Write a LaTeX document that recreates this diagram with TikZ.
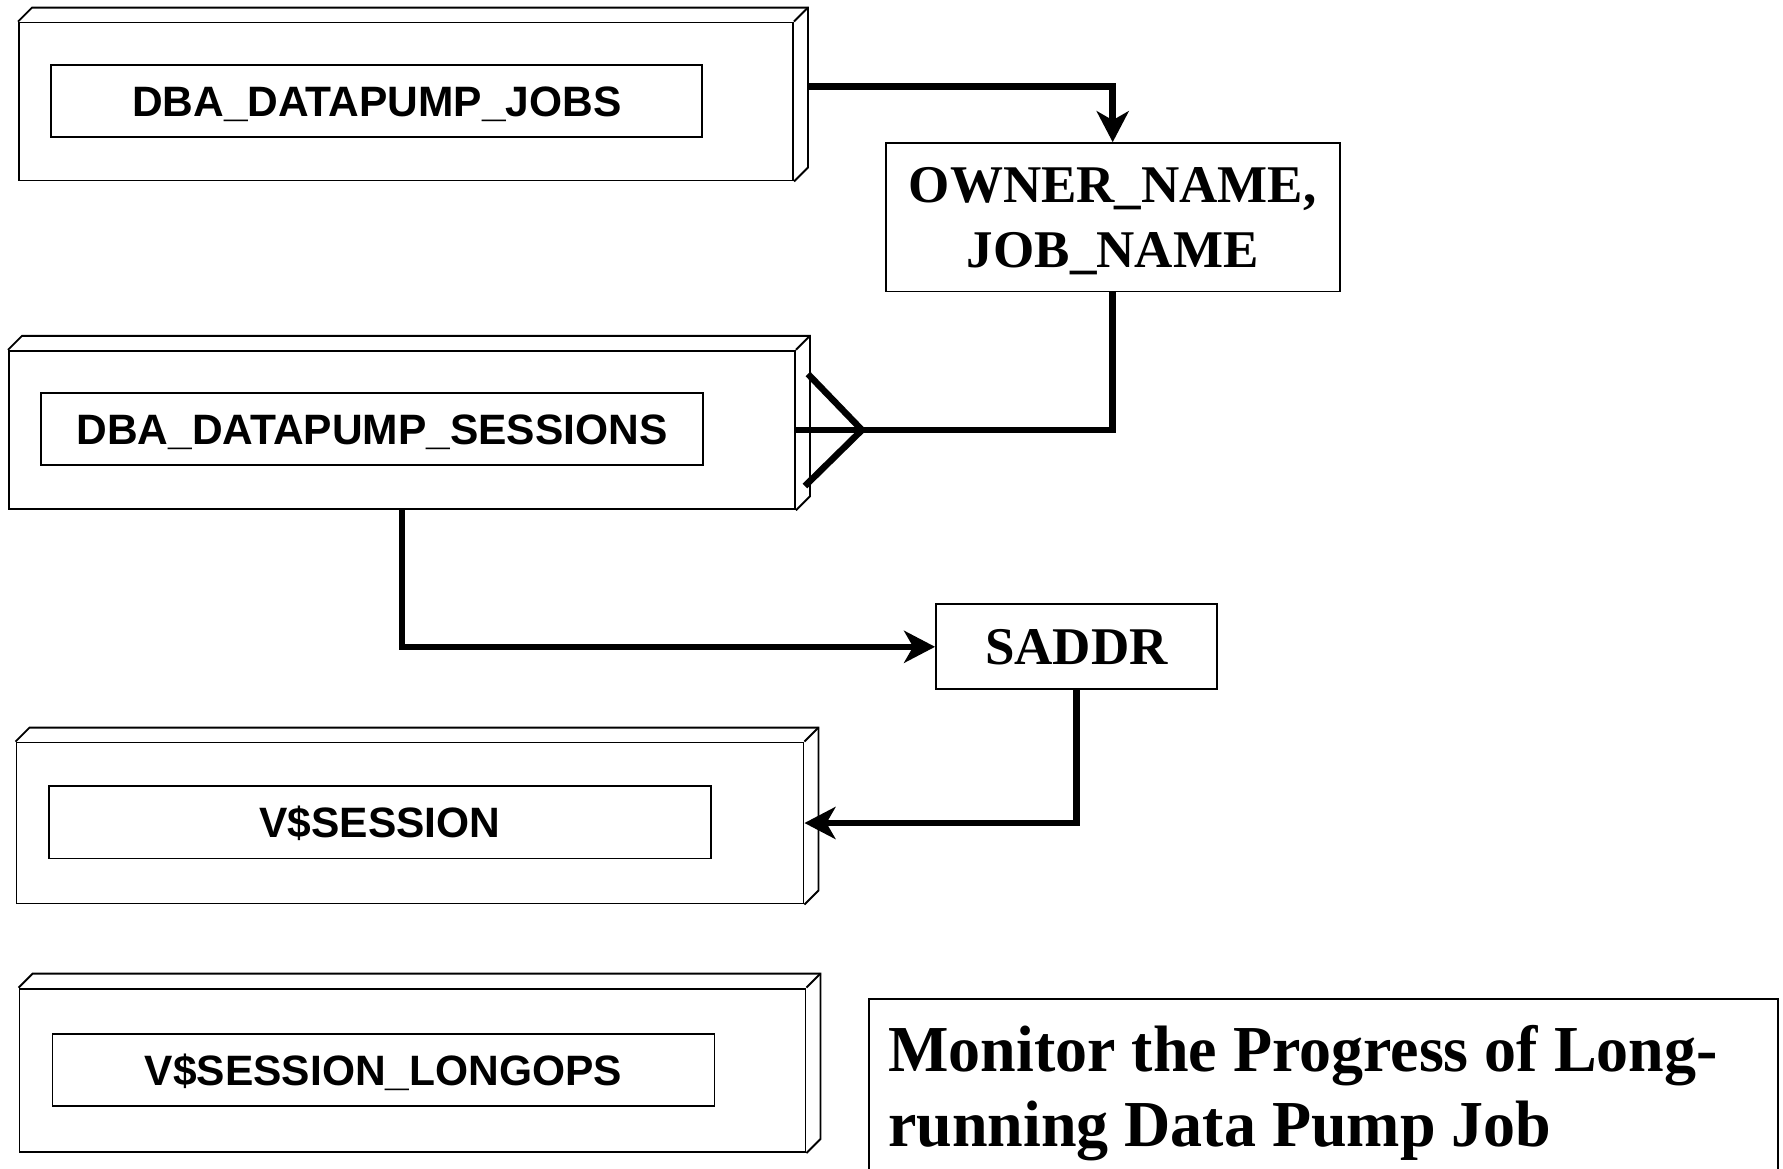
\documentclass[tikz,border=0pt]{standalone}
\usepackage{fontspec}
\setmainfont{Liberation Serif}
\newfontfamily\labelsans{Liberation Sans}
\usetikzlibrary{arrows.meta}

\tikzset{
  front/.style={draw, line width=1.9pt, rectangle, inner sep=0pt},
  tablebox/.style={draw, line width=1.9pt, rectangle, inner sep=0pt,
    text height=31pt, text depth=0pt,
    font=\labelsans\bfseries\fontsize{42.5}{50}\selectfont},
  keybox/.style={draw, line width=1.9pt, rectangle, inner sep=0pt, align=center,
    font=\bfseries\fontsize{53}{65}\selectfont},
  conn/.style={line width=6.5pt},
  arr/.style={conn, -{Stealth[length=31pt, width=32pt, inset=9pt]}},
  titletext/.style={anchor=base west, inner sep=0pt,
    font=\bfseries\fontsize{64}{74}\selectfont},
}

% draws the top and right faces of a block from its front rectangle node
\newcommand\blockdepth[1]{%
  \draw[line width=1.9pt, line join=miter]
    (#1.north west) -- ++(14,-14) -- ([shift={(14,-14)}]#1.north east)
    -- ([shift={(14,-14)}]#1.south east) -- (#1.south east);
  \draw[line width=1.9pt] (#1.north east) -- ++(14,-14);
}

\begin{document}
\begin{tikzpicture}[x=1pt, y=-1pt]
\useasboundingbox (0,0) rectangle (1783,1168);

% table blocks
\node[front, minimum width=774pt, minimum height=158pt] (b1) at (406,101.5) {};
\blockdepth{b1}
\node[tablebox, minimum width=651pt, minimum height=72pt] (l1) at (376.8,100.8) {DBA\_DATAPUMP\_JOBS};

\node[front, minimum width=786pt, minimum height=158.5pt] (b2) at (402,430) {};
\blockdepth{b2}
\node[tablebox, minimum width=662pt, minimum height=72pt] (l2) at (372,429.2) {DBA\_DATAPUMP\_SESSIONS};

\node[front, minimum width=787pt, minimum height=161pt] (b3) at (410,823) {};
\blockdepth{b3}
\node[tablebox, minimum width=662pt, minimum height=72.5pt] (l3) at (380,822.2) {V\$SESSION};

\node[front, minimum width=786pt, minimum height=163.5pt] (b4) at (412.5,1070.3) {};
\blockdepth{b4}
\node[tablebox, minimum width=662pt, minimum height=72pt] (l4) at (383.5,1069.8) {V\$SESSION\_LONGOPS};

% join columns
\node[keybox, text depth=0pt, minimum width=453.7pt, minimum height=148.3pt] (own) at (1112.7,217.3)
  {OWNER\_NAME,\\JOB\_NAME};
\node[keybox, minimum width=280.7pt, minimum height=85pt] (sad) at (1076.4,646.8) {SADDR};

% title panel
\node[draw, line width=1.9pt, rectangle, anchor=north west,
      minimum width=909.7pt, minimum height=220pt] (title) at (867.6,998.4) {};
\node[titletext, yscale=1.025, transform shape] (t1) at (888,1071.5) {Monitor the Progress of Long-};
\node[titletext, yscale=1.025, transform shape] (t2) at (888,1146) {running Data Pump Job};

% connectors
\draw[arr] ([shift={(14,65)}]b1.north east) -| (own.north);
\draw[conn] (own.south) |- (b2.east);
\coordinate (cf) at ([xshift=66pt]b2.east);
\draw[conn] ([shift={(-54,-56)}]cf) -- (cf) -- ([shift={(-57,56)}]cf);
\draw[arr] (b2.south) |- (sad.west);
\draw[arr] (sad.south) |- (b3.east);

\end{tikzpicture}
\end{document}
